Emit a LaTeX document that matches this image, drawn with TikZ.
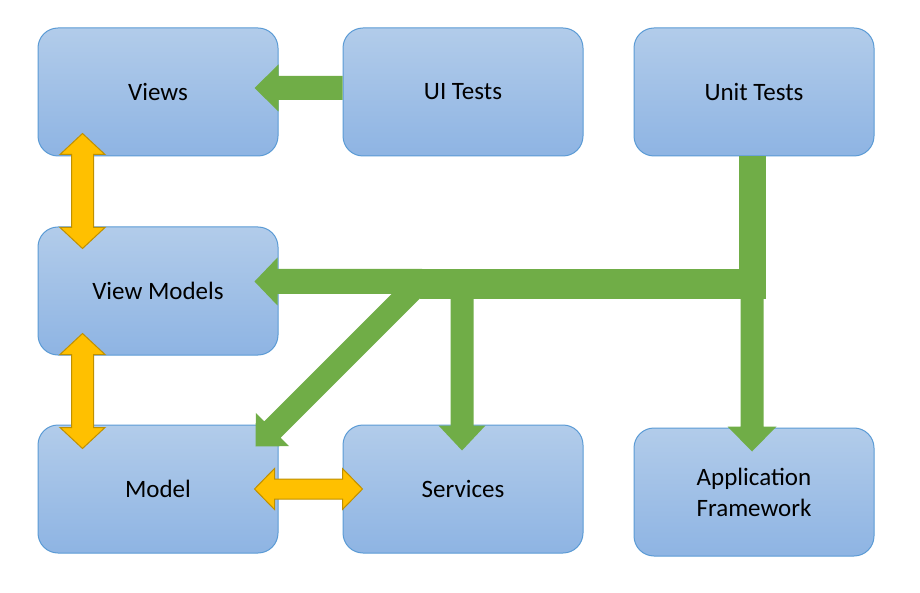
\documentclass[tikz,border=0pt]{standalone}
\usepackage{fontspec}
\setmainfont{Carlito}
\usetikzlibrary{calc}
\definecolor{boxtop}{HTML}{B2CCEA}
\definecolor{boxbot}{HTML}{8EB4E3}
\definecolor{boxline}{HTML}{5B9BD5}
\definecolor{gfill}{HTML}{70AD47}
\definecolor{ofill}{HTML}{FFC000}
\definecolor{oline}{HTML}{BF9000}
\newcommand{\myGreenArrow}[5]{%
  \coordinate (gS) at #1; \coordinate (gT) at #2;
  \coordinate (gT1) at ($(gT)!#5!(gS)$);
  \fill[gfill] ($(gS)!#3!90:(gT)$) -- ($(gT1)!#3!-90:(gS)$) -- ($(gT1)!#4!-90:(gS)$)
    -- (gT) -- ($(gT1)!#4!90:(gS)$) -- ($(gT1)!#3!90:(gS)$) -- ($(gS)!#3!-90:(gT)$) -- cycle;}
\newcommand{\myOrangeArrow}[5]{%
  \coordinate (oA) at #1; \coordinate (oB) at #2;
  \coordinate (oA1) at ($(oA)!#5!(oB)$);
  \coordinate (oB1) at ($(oB)!#5!(oA)$);
  \filldraw[fill=ofill, draw=oline, line width=1pt, line join=miter]
    (oA) -- ($(oA1)!#4!90:(oB)$) -- ($(oA1)!#3!90:(oB)$) -- ($(oB1)!#3!-90:(oA)$)
    -- ($(oB1)!#4!-90:(oA)$) -- (oB) -- ($(oB1)!#4!90:(oA)$) -- ($(oB1)!#3!90:(oA)$)
    -- ($(oA1)!#3!-90:(oB)$) -- ($(oA1)!#4!-90:(oB)$) -- cycle;}
\begin{document}
\begin{tikzpicture}[x=1pt,y=-1pt,
  box/.style={rectangle, rounded corners=20pt, draw=boxline, line width=1pt,
    top color=boxtop, bottom color=boxbot, minimum width=240pt, minimum height=128pt,
    inner sep=0pt, align=center, font=\fontsize{25}{31}\selectfont, text=black}]
\useasboundingbox (0,0) rectangle (920,593);
\fill[white] (0,0) rectangle (920,593);
% boxes
\node[box] (views) at (158,92) {Views};
\node[box] (uitests) at (463,92) {UI Tests};
\node[box] (unittests) at (754,92) {Unit Tests};
\node[box] (viewmodels) at (158,291) {View Models};
\node[box] (model) at (158,489) {Model};
\node[box] (services) at (463,489) {Services};
\node[box] (appfw) at (754,492) {Application\\Framework};
% green connectors
\coordinate (hub) at (752,284);
\myGreenArrow{([yshift=4pt]uitests.west)}{($(views.east)+(-24,-4)$)}{12pt}{23.5pt}{24pt}
\fill[gfill] ([xshift=-15.5pt]unittests.south) rectangle ($(hub)+(13.5,15)$);
\fill[gfill] ($(hub)+(-332,-15)$) rectangle ($(hub)+(13.5,15)$);
\myGreenArrow{(hub)}{($(appfw.north)+(-2,24)$)}{11.5pt}{24.5pt}{25pt}
\myGreenArrow{($(services.north |- hub)+(-1,0)$)}{($(services.north)+(-1,26)$)}{11.5pt}{23.5pt}{25pt}
\myGreenArrow{($(hub)+(-330,-2.5)$)}{($(viewmodels.east)+(-24,-9.5)$)}{12.5pt}{24pt}{23pt}
\myGreenArrow{($(hub)+(-334,0)$)}{($(model.north east)+(-23,22)$)}{11.6pt}{23.5pt}{24pt}
% orange connectors
\myOrangeArrow{($(views.south west)+(45,-23)$)}{($(viewmodels.north west)+(45,22)$)}{11pt}{22.5pt}{21pt}
\myOrangeArrow{($(viewmodels.south west)+(45,-22)$)}{($(model.north west)+(45,24)$)}{11pt}{22.5pt}{21pt}
\myOrangeArrow{($(model.east)+(-24,0)$)}{($(services.west)+(20,0)$)}{10pt}{20.5pt}{20pt}
\end{tikzpicture}
\end{document}
